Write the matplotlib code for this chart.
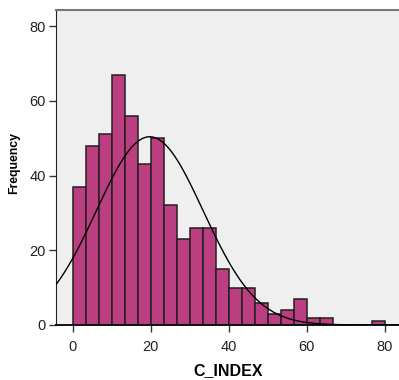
import numpy as np
import matplotlib
matplotlib.use("Agg")
import matplotlib.pyplot as plt

plt.rcParams['font.family'] = ['Liberation Sans', 'DejaVu Sans']

# Histogram of C_INDEX: bins of width 10/3 starting at 0
bin_start = 0.0
bin_width = 10.0 / 3.0
counts = [37, 48, 51, 67, 56, 43, 50, 32, 23, 26, 26, 15,
          10, 10, 6, 3, 4, 7, 2, 2, 0, 0, 0, 1]

# Normal curve parameters
mean_val = 19.75
sd_val = 13.7

x_ticks = [0, 20, 40, 60, 80]
y_ticks = [0, 20, 40, 60, 80]

fig = plt.figure(figsize=(3.99, 3.80), dpi=100)
ax = fig.add_axes([55.5 / 399, 55 / 380, (400 - 55.5) / 399, 315 / 380])
ax.set_facecolor('#EFEFEF')

edges = bin_start + bin_width * np.arange(len(counts))
ax.bar(edges, counts, width=bin_width, align='edge',
       color='#BB3F80', edgecolor='#231F20', linewidth=1.1, zorder=2)

xs = np.linspace(-10, 90, 600)
n_total = sum(counts)
ys = n_total * bin_width / (sd_val * np.sqrt(2 * np.pi)) * np.exp(-0.5 * ((xs - mean_val) / sd_val) ** 2)
ax.plot(xs, ys, color='black', linewidth=1.0, zorder=3)

ax.set_xlim(-4.41, 83.9)
ax.set_ylim(0, 84.3)
ax.set_xticks(x_ticks)
ax.set_yticks(y_ticks)
ax.tick_params(axis='both', labelsize=10.5, length=5, width=1, color='#333333', labelcolor='#222222')
ax.tick_params(axis='x', pad=6)
ax.tick_params(axis='y', pad=2)

ax.spines['left'].set_color('#222222')
ax.spines['bottom'].set_color('#111111')
ax.spines['bottom'].set_linewidth(1.4)
ax.spines['top'].set_color('#777777')
ax.spines['top'].set_linewidth(1.5)
ax.spines['right'].set_visible(False)

ax.set_xlabel('C_INDEX', fontsize=11.5, fontweight='bold', labelpad=6)
ax.set_ylabel('Frequency', fontsize=8.8, fontweight='bold')
ax.yaxis.set_label_coords(-0.103, 0.515)

fig.savefig('out.png', dpi=100)
